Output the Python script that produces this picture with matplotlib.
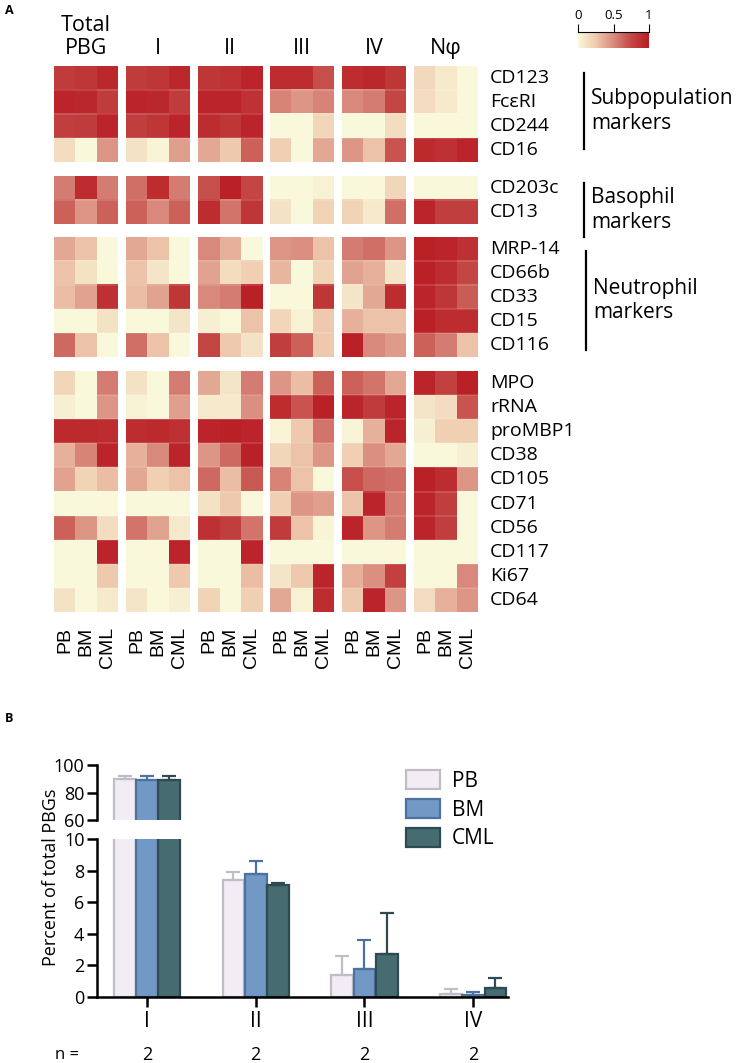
import numpy as np
import matplotlib

matplotlib.use("Agg")
import matplotlib.pyplot as plt
from matplotlib.colors import LinearSegmentedColormap
from matplotlib.patches import Patch

plt.rcParams["font.family"] = ["Open Sans", "DejaVu Sans"]

W, H = 736, 1063

markers = ["CD123", "FcεRI", "CD244", "CD16",
           "CD203c", "CD13",
           "MRP-14", "CD66b", "CD33", "CD15", "CD116",
           "MPO", "rRNA", "proMBP1", "CD38", "CD105", "CD71", "CD56",
           "CD117", "Ki67", "CD64"]
group_sizes = [4, 2, 5, 10]
group_names = ["Subpopulation\nmarkers", "Basophil\nmarkers", "Neutrophil\nmarkers"]
cell_types = ["Total\nPBG", "I", "II", "III", "IV", "Nφ"]
samples = ["PB", "BM", "CML"]

# scaled expression (0-1), rows = markers, cols = PB, BM, CML
total_pbg = [[0.82, 0.85, 0.93], [0.95, 0.93, 0.82], [0.80, 0.82, 0.95], [0.15, 0.00, 0.45],
             [0.55, 0.90, 0.55], [0.65, 0.45, 0.65],
             [0.38, 0.28, 0.00], [0.28, 0.12, 0.00], [0.30, 0.40, 0.88], [0.00, 0.00, 0.12], [0.62, 0.28, 0.00],
             [0.18, 0.00, 0.55], [0.05, 0.00, 0.45], [0.92, 0.92, 0.90], [0.35, 0.52, 0.95], [0.40, 0.20, 0.30],
             [0.00, 0.00, 0.00], [0.65, 0.45, 0.15], [0.00, 0.00, 0.95], [0.00, 0.00, 0.25], [0.12, 0.00, 0.08]]
sub_I = [[0.82, 0.85, 0.93], [0.95, 0.93, 0.82], [0.80, 0.85, 0.95], [0.12, 0.02, 0.42],
         [0.60, 0.90, 0.55], [0.65, 0.50, 0.65],
         [0.38, 0.28, 0.00], [0.28, 0.10, 0.00], [0.30, 0.40, 0.85], [0.00, 0.00, 0.10], [0.60, 0.28, 0.00],
         [0.12, 0.00, 0.55], [0.03, 0.00, 0.42], [0.90, 0.92, 0.88], [0.35, 0.50, 0.95], [0.38, 0.22, 0.28],
         [0.00, 0.00, 0.00], [0.58, 0.40, 0.08], [0.00, 0.00, 0.95], [0.00, 0.00, 0.25], [0.10, 0.00, 0.05]]
sub_II = [[0.85, 0.87, 0.95], [0.95, 0.95, 0.87], [0.90, 0.85, 0.95], [0.38, 0.25, 0.65],
          [0.72, 0.97, 0.75], [0.90, 0.58, 0.85],
          [0.50, 0.35, 0.00], [0.40, 0.15, 0.22], [0.50, 0.55, 0.97], [0.05, 0.00, 0.28], [0.75, 0.25, 0.12],
          [0.38, 0.10, 0.55], [0.08, 0.08, 0.48], [0.95, 0.97, 0.95], [0.45, 0.62, 0.97], [0.62, 0.30, 0.68],
          [0.12, 0.25, 0.00], [0.88, 0.80, 0.58], [0.00, 0.00, 0.95], [0.00, 0.00, 0.30], [0.20, 0.00, 0.22]]
sub_III = [[0.90, 0.90, 0.72], [0.52, 0.45, 0.52], [0.00, 0.00, 0.18], [0.22, 0.00, 0.38],
           [0.00, 0.00, 0.03], [0.12, 0.00, 0.20],
           [0.45, 0.48, 0.28], [0.33, 0.00, 0.20], [0.00, 0.00, 0.85], [0.18, 0.03, 0.25], [0.80, 0.65, 0.25],
           [0.45, 0.30, 0.65], [0.90, 0.70, 0.97], [0.02, 0.25, 0.58], [0.18, 0.28, 0.45], [0.52, 0.28, 0.00],
           [0.22, 0.45, 0.42], [0.82, 0.28, 0.02], [0.00, 0.00, 0.00], [0.10, 0.25, 0.95], [0.38, 0.03, 0.90]]
sub_IV = [[0.90, 0.93, 0.85], [0.50, 0.55, 0.75], [0.00, 0.00, 0.15], [0.45, 0.28, 0.70],
          [0.00, 0.00, 0.18], [0.20, 0.08, 0.60],
          [0.55, 0.60, 0.45], [0.40, 0.35, 0.10], [0.10, 0.38, 0.90], [0.35, 0.28, 0.28], [0.97, 0.50, 0.43],
          [0.65, 0.58, 0.38], [0.95, 0.82, 0.95], [0.02, 0.35, 0.95], [0.22, 0.48, 0.38], [0.72, 0.62, 0.60],
          [0.28, 0.95, 0.55], [0.95, 0.45, 0.55], [0.00, 0.00, 0.00], [0.35, 0.48, 0.78], [0.25, 0.95, 0.45]]
neutro = [[0.17, 0.08, 0.00], [0.15, 0.08, 0.00], [0.00, 0.00, 0.00], [0.92, 0.88, 0.95],
          [0.00, 0.00, 0.00], [0.95, 0.80, 0.80],
          [0.97, 0.95, 0.88], [0.97, 0.90, 0.75], [0.95, 0.85, 0.67], [0.97, 0.90, 0.90], [0.65, 0.55, 0.28],
          [0.95, 0.78, 0.97], [0.10, 0.15, 0.70], [0.05, 0.22, 0.22], [0.00, 0.00, 0.05], [0.97, 0.90, 0.45],
          [0.95, 0.80, 0.00], [0.95, 0.80, 0.00], [0.00, 0.00, 0.00], [0.00, 0.00, 0.50], [0.15, 0.35, 0.45]]
blocks = [total_pbg, sub_I, sub_II, sub_III, sub_IV, neutro]

# panel B: percent of total PBGs per subpopulation
subpops = ["I", "II", "III", "IV"]
pb_mean = [90.0, 7.4, 1.4, 0.2]
pb_err = [2.0, 0.5, 1.2, 0.3]
bm_mean = [89.0, 7.8, 1.8, 0.1]
bm_err = [3.0, 0.8, 1.8, 0.2]
cml_mean = [89.0, 7.1, 2.7, 0.6]
cml_err = [3.0, 0.1, 2.6, 0.6]
n_counts = [2, 2, 2, 2]

cmap = LinearSegmentedColormap.from_list(
    "cream_red", ["#faf8da", "#efcaae", "#d98a7c", "#c44745", "#b91d24"])


def rect(x, y, w, h):
    return [x / W, 1 - (y + h) / H, w / W, h / H]


fig = plt.figure(figsize=(W / 100, H / 100), dpi=100)

# ---- panel A: heatmap ----
block_x = [54, 126, 198, 270, 342, 414]
block_w = 64
group_top = [66, 176, 237, 371]
row_h = 24.1

starts = np.cumsum([0] + group_sizes[:-1])
for bi, data in enumerate(blocks):
    arr = np.array(data)
    for gi, (s, n) in enumerate(zip(starts, group_sizes)):
        ax = fig.add_axes(rect(block_x[bi], group_top[gi], block_w, n * row_h))
        ax.imshow(arr[s:s + n], cmap=cmap, vmin=0, vmax=1, aspect="auto",
                  interpolation="nearest")
        for r in range(1, n):
            ax.axhline(r - 0.5, color="white", lw=0.3, alpha=0.6)
        ax.set_axis_off()

for bi, name in enumerate(cell_types):
    fig.text((block_x[bi] + block_w / 2) / W, 1 - 54 / H, name, ha="center",
             va="baseline", fontsize=15.5, linespacing=1.15)
    for si, s in enumerate(samples):
        fig.text((block_x[bi] + block_w * (si + 0.5) / 3) / W, 1 - 627 / H, s,
                 rotation=90, ha="center", va="top", fontsize=14,
                 family=["Liberation Sans", "DejaVu Sans"])

for gi, (s, n) in enumerate(zip(starts, group_sizes)):
    for r in range(n):
        fig.text(490 / W, 1 - (group_top[gi] + (r + 0.5) * row_h) / H,
                 markers[s + r], ha="left", va="center", fontsize=14)

bracket_spans = [(73, 149), (183, 237), (251, 350)]
bracket_x = [584, 584, 586]
for (y0, y1), bx, label in zip(bracket_spans, bracket_x, group_names):
    fig.add_artist(plt.Line2D([bx / W, bx / W], [1 - y0 / H, 1 - y1 / H],
                              color="black", lw=1.6))
    fig.text((bx + 7) / W, 1 - (y0 + y1) / 2 / H, label, ha="left",
             va="center", fontsize=15, linespacing=1.2)

cax = fig.add_axes(rect(578, 32, 71, 16))
cax.imshow(np.linspace(0, 1, 256)[None, :], cmap=cmap, aspect="auto",
           extent=[0, 1, 0, 1])
cax.set_xlim(0, 1)
for side in ["left", "right", "bottom"]:
    cax.spines[side].set_visible(False)
cax.spines["top"].set_linewidth(0.8)
cax.xaxis.tick_top()
cax.set_xticks([0, 0.5, 1])
cax.set_xticklabels(["0", "0.5", "1"], fontsize=9.5)
cax.tick_params(axis="x", length=6, width=0.8, pad=1)
cax.set_yticks([])

fig.text(5 / W, 1 - 10 / H, "A", fontsize=9, fontweight="bold", va="center")
fig.text(5 / W, 1 - 718 / H, "B", fontsize=9, fontweight="bold", va="center")

# ---- panel B: broken-axis bar chart ----
x = np.arange(len(subpops))
xlim = (-0.46, 3.32)
bw = 0.2
series = [
    ("PB", pb_mean, pb_err, "#f2ecf4", "#c1bdc6", -0.205),
    ("BM", bm_mean, bm_err, "#7299c6", "#4d72a0", 0.0),
    ("CML", cml_mean, cml_err, "#466b70", "#2e4b52", 0.205),
]

ax_hi = fig.add_axes(rect(97, 765, 411, 55))
ax_lo = fig.add_axes(rect(97, 839, 411, 158))

for ax in (ax_hi, ax_lo):
    for lab, m, e, fc, ec, off in series:
        ax.bar(x + off, m, bw, color=fc, edgecolor=ec, linewidth=1.6, label=lab)
        ax.errorbar(x + off, m, yerr=[np.zeros(len(e)), e], fmt="none",
                    ecolor=ec, elinewidth=1.6, capsize=5, capthick=1.6)
    ax.set_xlim(*xlim)
    for side in ["top", "right"]:
        ax.spines[side].set_visible(False)
    ax.spines["left"].set_linewidth(1.8)
    ax.spines["bottom"].set_linewidth(1.8)
    ax.tick_params(axis="y", length=7, width=1.8, labelsize=13, pad=2)

ax_hi.set_ylim(60, 100)
ax_hi.set_yticks([60, 80, 100])
ax_hi.spines["bottom"].set_visible(False)
ax_hi.set_xticks([])

ax_lo.set_ylim(0, 10)
ax_lo.set_yticks(range(0, 11, 2))
ax_lo.set_xticks(x)
ax_lo.set_xticklabels(subpops, fontsize=15)
ax_lo.tick_params(axis="x", length=7, width=1.8, pad=3)

fig.text(51 / W, 1 - 877 / H, "Percent of total PBGs", rotation=90,
         ha="center", va="center", fontsize=13)

handles = [Patch(facecolor=fc, edgecolor=ec, linewidth=1.6, label=lab)
           for lab, m, e, fc, ec, off in series]
fig.legend(handles=handles, loc="upper left",
           bbox_to_anchor=(396 / W, 1 - 760 / H), frameon=False, fontsize=15,
           handlelength=1.6, handleheight=1.0, labelspacing=0.35,
           handletextpad=0.6, borderpad=0)

fig.text(67 / W, 1 - 1055 / H, "n =", ha="center", va="center", fontsize=12)
for xi, n in zip(x, n_counts):
    xf = (97 + (xi - xlim[0]) / (xlim[1] - xlim[0]) * 411) / W
    fig.text(xf, 1 - 1055 / H, str(n), ha="center", va="center", fontsize=13)

fig.savefig("out.png", dpi=100)
